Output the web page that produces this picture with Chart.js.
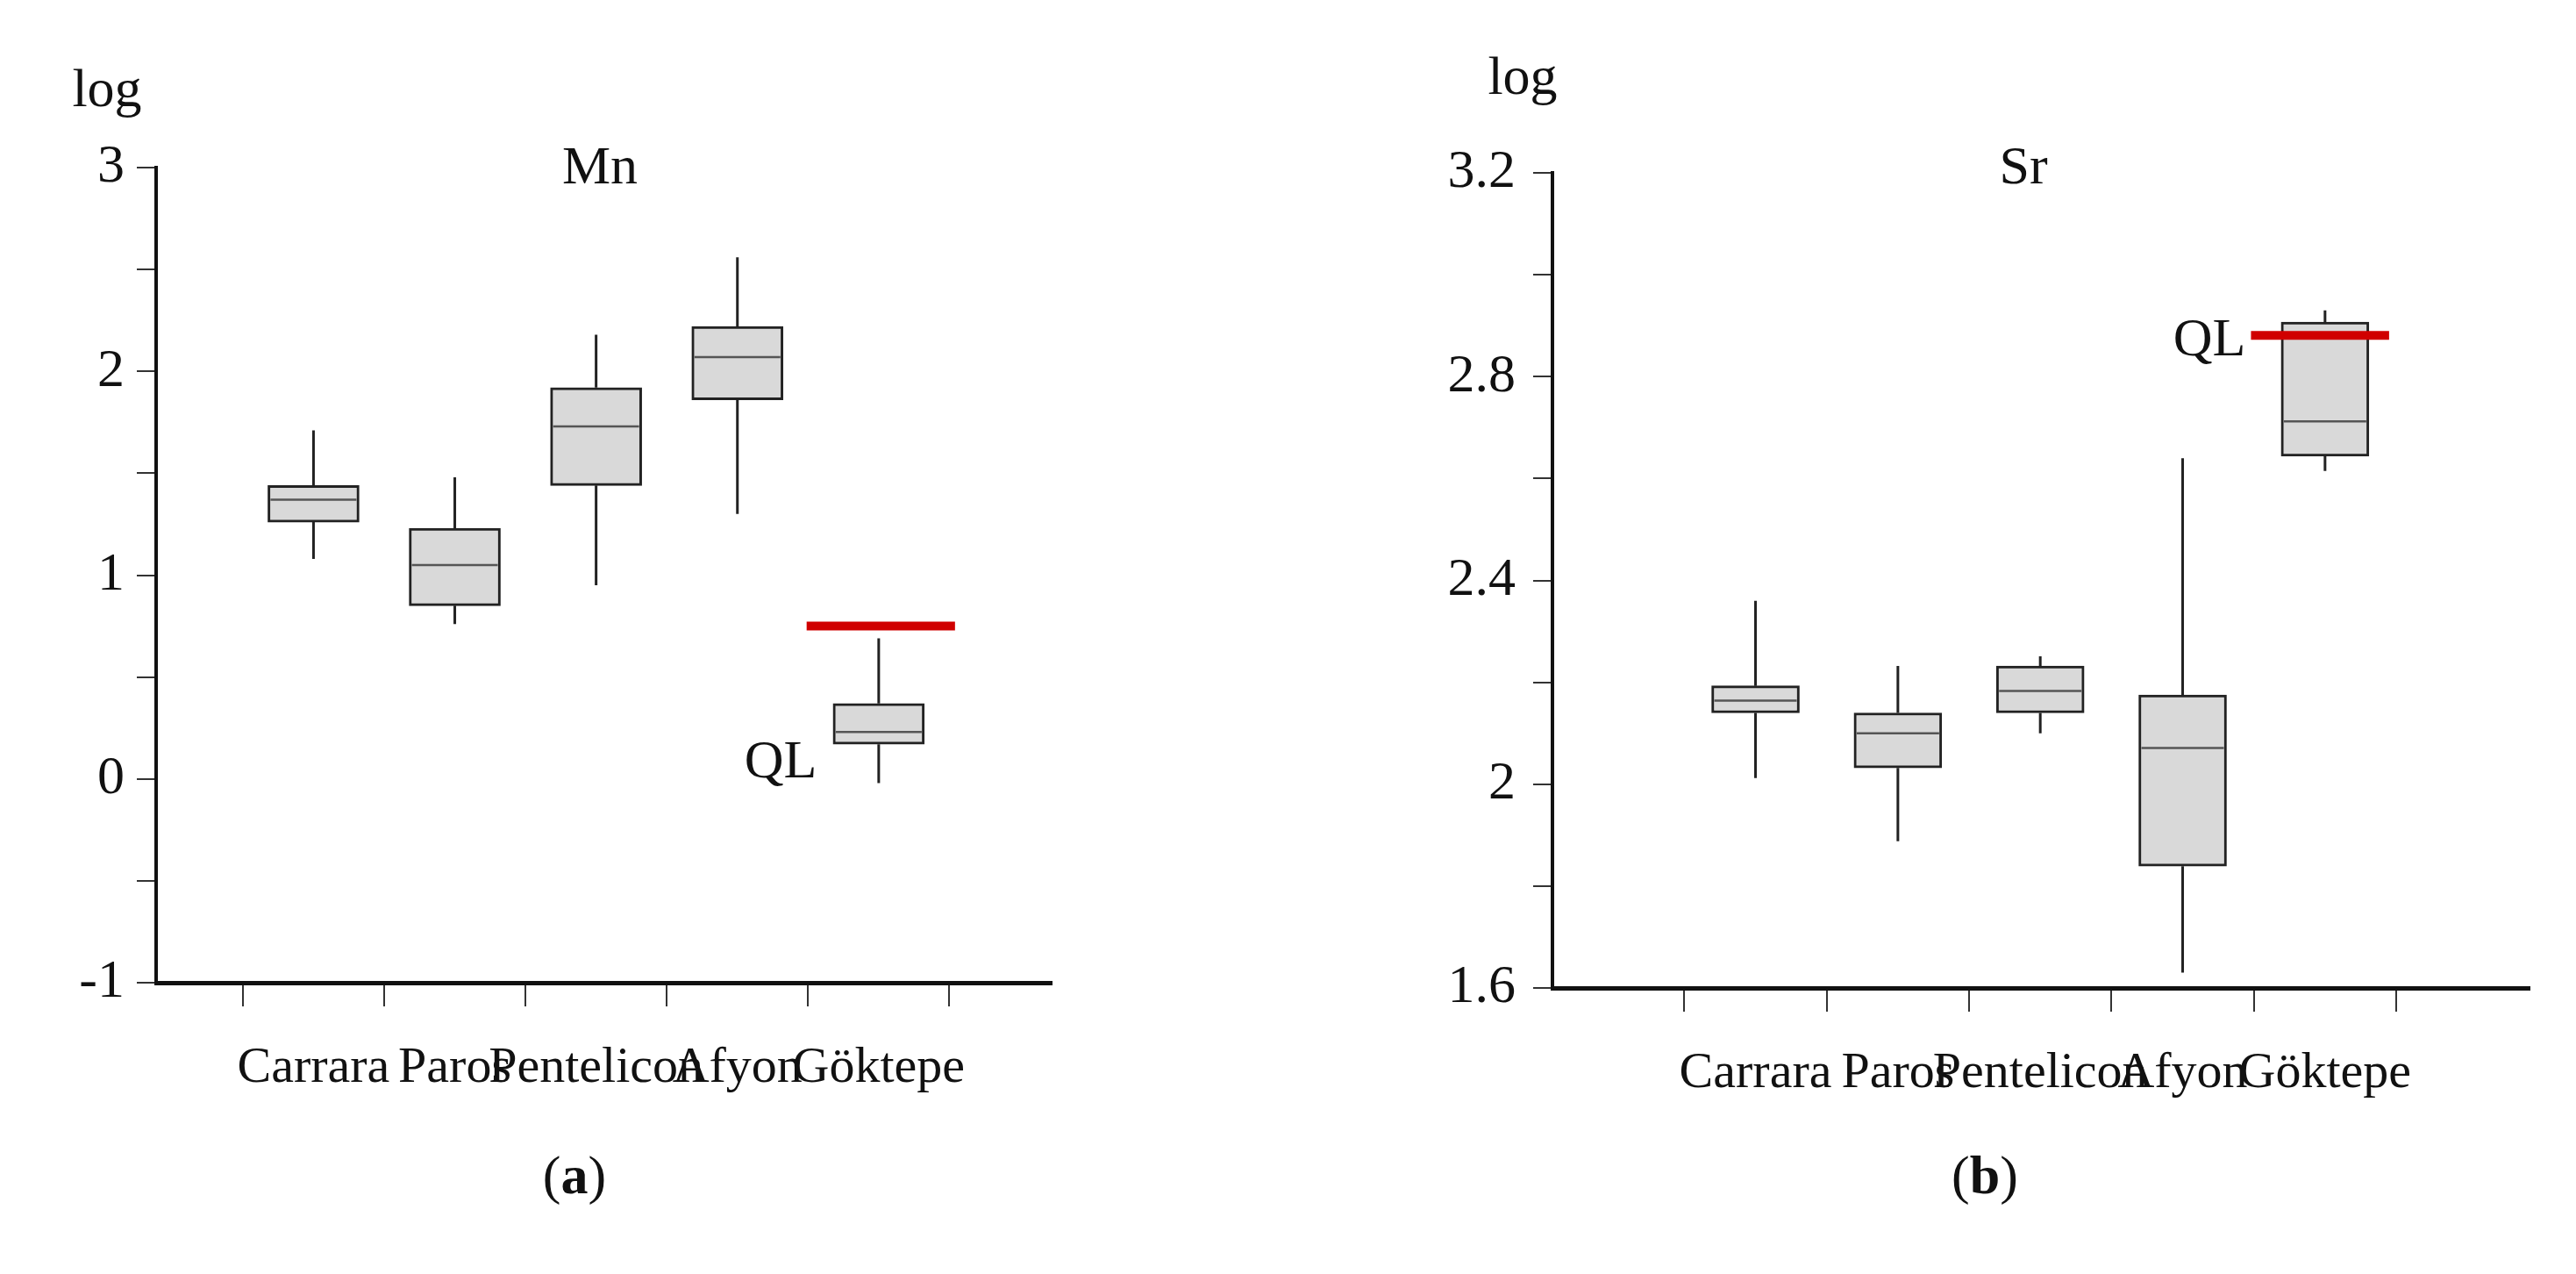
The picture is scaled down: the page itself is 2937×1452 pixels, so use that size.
<!DOCTYPE html>
<html>
<head>
<meta charset="utf-8">
<script src="https://cdn.jsdelivr.net/npm/chart.js@4/dist/chart.umd.min.js"></script>
<style>
  body { margin: 0; width: 2937px; height: 1452px; background: #fff; position: relative; overflow: hidden; font-family: "Liberation Serif", serif; }
  canvas { position: absolute; top: 0; }
  .txt { position: absolute; font-size: 62px; color: #111; transform: translate(-50%, -50%); white-space: nowrap; }
</style>
</head>
<body>
<canvas id="mnChart" style="left:0px"></canvas>
<canvas id="srChart" style="left:1440px"></canvas>
<div class="txt" style="left:122px;top:100px">log</div>
<div class="txt" style="left:684px;top:188px">Mn</div>
<div class="txt" style="left:890px;top:865px">QL</div>
<div class="txt" style="left:655px;top:1339px">(<b>a</b>)</div>
<div class="txt" style="left:1736px;top:86px">log</div>
<div class="txt" style="left:2307px;top:188px">Sr</div>
<div class="txt" style="left:2519px;top:384px">QL</div>
<div class="txt" style="left:2263px;top:1339px">(<b>b</b>)</div>
<script>
const sites = ['Carrara', 'Paros', 'Pentelicon', 'Afyon', 'Göktepe'];

// Mn (log)
const mnMin = [1.08, 0.76, 0.95, 1.30, -0.02];
const mnQ1 = [1.26, 0.85, 1.44, 1.86, 0.17];
const mnMed = [1.37, 1.05, 1.73, 2.07, 0.23];
const mnQ3 = [1.44, 1.23, 1.92, 2.22, 0.37];
const mnMax = [1.71, 1.48, 2.18, 2.56, 0.69];
const mnQL = 0.75;
const mnTicks = [-1, -0.5, 0, 0.5, 1, 1.5, 2, 2.5, 3];

// Sr (log)
const srMin = [2.012, 1.888, 2.10, 1.63, 2.615];
const srQ1 = [2.14, 2.032, 2.14, 1.839, 2.644];
const srMed = [2.164, 2.10, 2.183, 2.071, 2.712];
const srQ3 = [2.193, 2.14, 2.232, 2.175, 2.907];
const srMax = [2.36, 2.232, 2.251, 2.64, 2.93];
const srQL = 2.881;
const srTicks = [1.6, 1.8, 2.0, 2.2, 2.4, 2.6, 2.8, 3.0, 3.2];
const srLabeled = [1.6, 2.0, 2.4, 2.8, 3.2];

const boxPlugin = {
  id: 'boxExtras',
  afterDatasetsDraw(chart, args, opts) {
    const { ctx, scales: { x, y } } = chart;
    const half = opts.boxW / 2;
    ctx.save();
    ctx.strokeStyle = '#222';
    ctx.lineWidth = 3;
    for (let i = 0; i < opts.med.length; i++) {
      const px = x.getPixelForValue(i);
      ctx.beginPath();
      ctx.moveTo(px, y.getPixelForValue(opts.q3[i]));
      ctx.lineTo(px, y.getPixelForValue(opts.max[i]));
      ctx.moveTo(px, y.getPixelForValue(opts.q1[i]));
      ctx.lineTo(px, y.getPixelForValue(opts.min[i]));
      ctx.stroke();
    }
    ctx.strokeStyle = '#555';
    ctx.lineWidth = 2.5;
    for (let i = 0; i < opts.med.length; i++) {
      const px = x.getPixelForValue(i);
      const py = y.getPixelForValue(opts.med[i]);
      ctx.beginPath();
      ctx.moveTo(px - half + 3, py);
      ctx.lineTo(px + half - 3, py);
      ctx.stroke();
    }
    // quantification limit
    ctx.strokeStyle = '#d00000';
    ctx.lineWidth = 10;
    const qy = y.getPixelForValue(opts.ql);
    ctx.beginPath();
    ctx.moveTo(x.getPixelForValue(opts.qlFrom), qy);
    ctx.lineTo(x.getPixelForValue(opts.qlTo), qy);
    ctx.stroke();
    ctx.restore();
  }
};

function makeChart(id, w, cfg) {
  const el = document.getElementById(id);
  el.width = w;
  el.height = 1452;
  el.style.width = w + 'px';
  el.style.height = '1452px';
  return new Chart(el, {
    type: 'bar',
    data: {
      datasets: [{
        data: cfg.q1.map((v, i) => ({ x: i, y: [v, cfg.q3[i]] })),
        backgroundColor: '#d9d9d9',
        borderColor: '#222',
        borderWidth: 3,
        borderSkipped: false,
        barThickness: cfg.boxW
      }]
    },
    options: {
      responsive: false,
      animation: false,
      devicePixelRatio: 1,
      layout: { padding: { top: cfg.top, right: cfg.right, left: 0, bottom: 0 } },
      plugins: {
        legend: { display: false },
        tooltip: { enabled: false },
        boxExtras: cfg
      },
      scales: {
        x: {
          type: 'linear',
          min: cfg.xMin,
          max: cfg.xMax,
          afterBuildTicks: s => { s.ticks = sites.map((_, i) => ({ value: i })); },
          afterFit: s => { s.height = 1452 - cfg.bottom; },
          grid: { drawOnChartArea: false, tickLength: 27, color: '#333', lineWidth: 2 },
          border: { color: '#111', width: 5 },
          ticks: {
            autoSkip: false,
            maxRotation: 0,
            padding: 36,
            color: '#111',
            font: { family: 'Liberation Serif', size: 58 },
            callback: v => sites[v]
          }
        },
        y: {
          min: cfg.yTicks[0],
          max: cfg.yTicks[cfg.yTicks.length - 1],
          afterBuildTicks: s => { s.ticks = cfg.yTicks.map(v => ({ value: v })); },
          afterFit: s => { s.width = cfg.left; },
          grid: { drawOnChartArea: false, tickLength: 22, color: '#333', lineWidth: 2 },
          border: { color: '#111', width: 4 },
          ticks: {
            padding: cfg.labelPad,
            color: '#111',
            font: { family: 'Liberation Serif', size: 62 },
            callback: cfg.yLabel
          }
        }
      }
    },
    plugins: [boxPlugin]
  });
}

makeChart('mnChart', 1400, {
  min: mnMin, q1: mnQ1, med: mnMed, q3: mnQ3, max: mnMax,
  ql: mnQL, qlFrom: 3.49, qlTo: 4.54, boxW: 104,
  xMin: -0.48, xMax: 4.59,
  yTicks: mnTicks,
  yLabel: v => Number.isInteger(v) ? String(v) : '',
  left: 178, top: 191, right: 1400 - 1199, bottom: 1120, labelPad: 14
});

makeChart('srChart', 1497, {
  min: srMin, q1: srQ1, med: srMed, q3: srQ3, max: srMax,
  ql: srQL, qlFrom: 3.48, qlTo: 4.45, boxW: 100,
  xMin: -0.74, xMax: 4.75,
  yTicks: srTicks,
  yLabel: v => srLabeled.some(t => Math.abs(t - v) < 1e-9) ? String(Math.round(v * 10) / 10) : '',
  left: 1770 - 1440, top: 197, right: 1497 - (2884 - 1440), bottom: 1126, labelPad: 20
});
</script>
</body>
</html>
